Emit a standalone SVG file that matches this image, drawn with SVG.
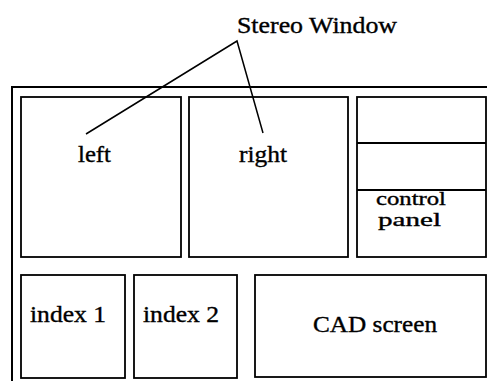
<svg xmlns="http://www.w3.org/2000/svg" width="487" height="381" viewBox="0 0 487 381">
  <style>
    .box { fill: none; stroke: #000; stroke-width: 1.8; }
    .frame { fill: none; stroke: #000; stroke-width: 2; }
    .lbl { font-family: "Liberation Serif", "Times New Roman", serif; font-size: 23px; fill: #000; stroke: #000; stroke-width: 0.35; }
    .small { font-size: 18px; }
    .ptr { fill: none; stroke: #000; stroke-width: 1.5; }
  </style>
  <rect width="487" height="381" fill="#fff"/>

  <!-- screen outline -->
  <g id="screen">
    <rect class="frame" x="12" y="87" width="490" height="310"/>
  </g>

  <g id="left-view">
    <rect class="box" x="21" y="97" width="160" height="160"/>
    <text class="lbl" x="78" y="162" textLength="33" lengthAdjust="spacingAndGlyphs">left</text>
  </g>

  <g id="right-view">
    <rect class="box" x="189" y="97" width="159" height="160"/>
    <text class="lbl" x="239" y="162" textLength="48" lengthAdjust="spacingAndGlyphs">right</text>
  </g>

  <g id="control-panel">
    <rect class="box" x="357" y="97" width="129" height="160"/>
    <line class="box" x1="357" y1="143" x2="486" y2="143"/>
    <line class="box" x1="357" y1="190" x2="486" y2="190"/>
    <text class="lbl small" x="376" y="205" textLength="70" lengthAdjust="spacingAndGlyphs">control</text>
    <text class="lbl small" x="378" y="226" textLength="63" lengthAdjust="spacingAndGlyphs">panel</text>
  </g>

  <g id="index-1">
    <rect class="box" x="21" y="275" width="104" height="103"/>
    <text class="lbl" x="30" y="322" textLength="76" lengthAdjust="spacingAndGlyphs">index 1</text>
  </g>

  <g id="index-2">
    <rect class="box" x="134" y="275" width="103" height="103"/>
    <text class="lbl" x="143" y="322" textLength="76" lengthAdjust="spacingAndGlyphs">index 2</text>
  </g>

  <g id="cad-screen">
    <rect class="box" x="255" y="275" width="231" height="102"/>
    <text class="lbl" x="313" y="332" textLength="124" lengthAdjust="spacingAndGlyphs">CAD screen</text>
  </g>

  <g id="stereo-window">
    <text class="lbl" x="237" y="33" textLength="160" lengthAdjust="spacingAndGlyphs">Stereo Window</text>
  </g>

  <!-- pointers from the caption to the two views -->
  <g id="connectors">
    <polyline class="ptr" points="86,134 237,41 263,133"/>
  </g>
</svg>
